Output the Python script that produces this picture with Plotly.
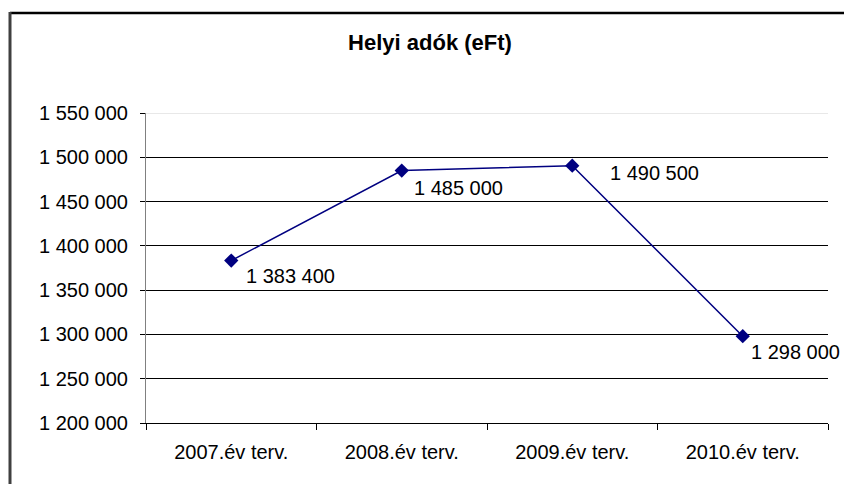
import plotly.graph_objects as go

categories = ["2007.év terv.", "2008.év terv.", "2009.év terv.", "2010.év terv."]
values = [1383400, 1485000, 1490500, 1298000]
y_tick_values = [1200000, 1250000, 1300000, 1350000, 1400000, 1450000, 1500000, 1550000]

def fmt(v):
    return f"{v:,}".replace(",", " ")

labels = [fmt(v) for v in values]
y_tick_text = [fmt(v) for v in y_tick_values]

# label offsets (pixels) relative to each point, as in the reference
label_dx = [13, 10, 36, 6]
label_dy = [-15, -17, -7, -16]

W, H = 844, 484
L, R, T, B = 146, 16, 113, 61
pw, ph = W - L - R, H - T - B

def px_x(p):
    return (p - L) / pw

def px_y(p):
    return (H - B - p) / ph

FONT = "Liberation Sans, Arial, sans-serif"

fig = go.Figure()
fig.add_trace(go.Scatter(
    x=categories, y=values,
    mode="lines+markers",
    line=dict(color="#000080", width=1.5),
    marker=dict(symbol="diamond", size=11, color="#000080"),
    cliponaxis=False,
    hoverinfo="skip",
))

annotations = [
    dict(x=c, y=v, xref="x", yref="y", text=t, showarrow=False,
         xanchor="left", yanchor="middle", xshift=dx, yshift=dy,
         font=dict(family=FONT, size=20, color="black"))
    for c, v, t, dx, dy in zip(categories, values, labels, label_dx, label_dy)
]

fig.update_layout(
    width=W, height=H,
    margin=dict(l=L, r=R, t=T, b=B),
    paper_bgcolor="white", plot_bgcolor="white",
    showlegend=False,
    title=dict(text="<b>Helyi adók (eFt)</b>", x=430 / W, xref="container", xanchor="center",
               y=1 - 42 / H, yref="container", yanchor="middle",
               font=dict(family=FONT, size=22, color="black")),
    xaxis=dict(
        type="category", range=[-0.5, 3.5],
        showline=True, linecolor="black", linewidth=1,
        ticks="outside", tickson="boundaries", ticklen=6, tickcolor="black",
        showgrid=False, zeroline=False,
        tickfont=dict(family=FONT, size=20, color="black"),
        ticklabelstandoff=11,
    ),
    yaxis=dict(
        range=[1200000, 1550000],
        tickvals=y_tick_values, ticktext=y_tick_text,
        showline=True, linecolor="#808080", linewidth=1,
        ticks="outside", ticklen=5, tickcolor="black",
        showgrid=True, gridcolor="black", gridwidth=1,
        zeroline=False,
        tickfont=dict(family=FONT, size=20, color="black"),
        ticklabelstandoff=8,
    ),
    annotations=annotations,
    shapes=[
        dict(type="line", xref="paper", yref="y", x0=0, x1=1, y0=1550000, y1=1550000,
             line=dict(color="#e0e0e0", width=1.5), layer="above"),
        dict(type="line", xref="paper", yref="paper", x0=px_x(10), x1=px_x(W + 5),
             y0=px_y(13), y1=px_y(13), line=dict(color="black", width=2.5)),
        dict(type="line", xref="paper", yref="paper", x0=px_x(10), x1=px_x(10),
             y0=px_y(12), y1=px_y(H + 5), line=dict(color="#404040", width=3)),
    ],
)

fig.write_html("out.html", config={"displayModeBar": False},
               post_script="document.body.style.margin='0';document.body.style.overflow='hidden';")
